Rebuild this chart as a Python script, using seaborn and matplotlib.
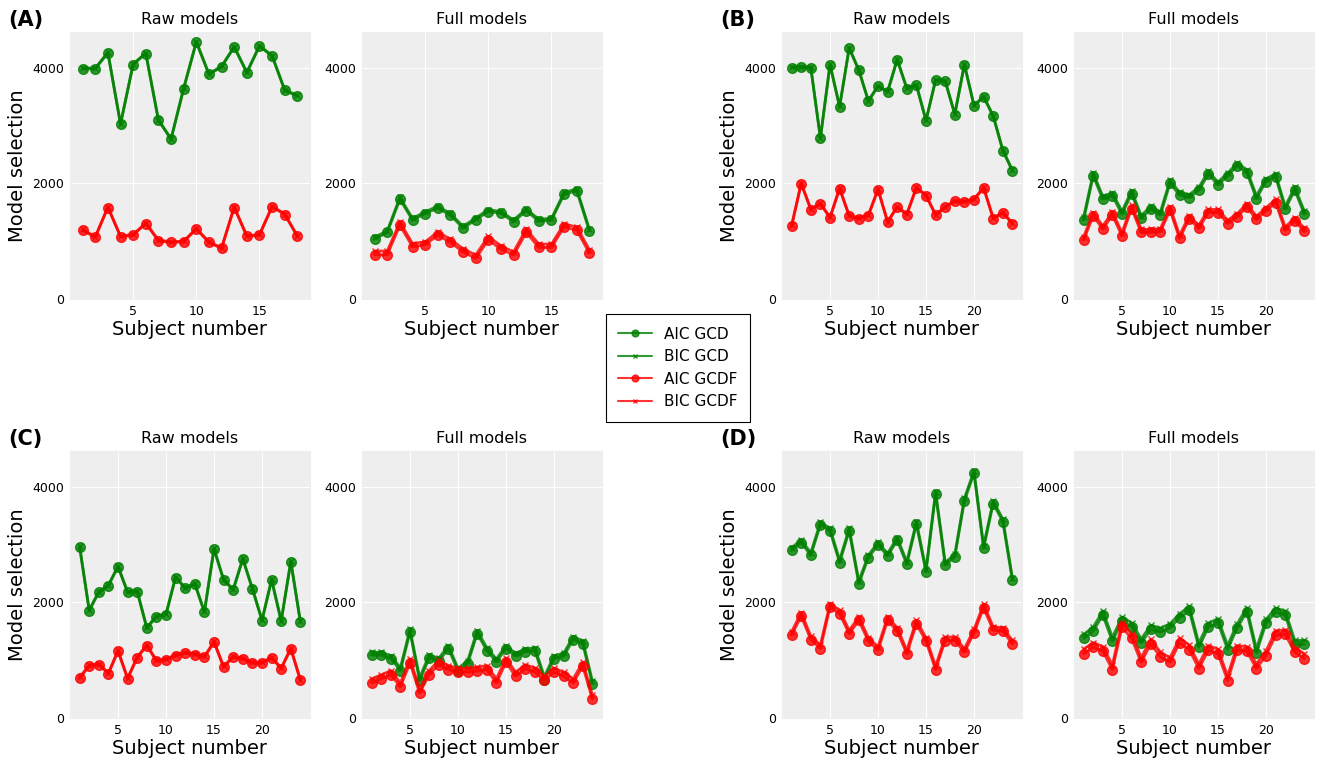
import numpy as np
import pandas as pd
import matplotlib
matplotlib.use("Agg")
import matplotlib.pyplot as plt
import seaborn as sns

# ---- data ----
subjects_a = list(range(1, 19))
subjects_bcd = list(range(1, 25))

# (A)
a_raw_aic_gcd = [3988, 3982, 4259, 3021, 4057, 4247, 3090, 2762, 3637, 4443, 3885, 4017, 4357, 3913, 4374, 4201, 3608, 3510]
a_raw_bic_gcd = [4000, 3995, 4270, 3035, 4068, 4258, 3102, 2775, 3650, 4455, 3897, 4030, 4368, 3925, 4386, 4213, 3620, 3522]
a_raw_aic_gcdf = [1191, 1065, 1583, 1076, 1105, 1306, 1007, 978, 990, 1209, 978, 875, 1583, 1082, 1105, 1594, 1462, 1082]
a_raw_bic_gcdf = [1203, 1078, 1595, 1088, 1117, 1318, 1019, 990, 1002, 1221, 990, 887, 1596, 1094, 1117, 1606, 1474, 1094]
a_full_aic_gcd = [1036, 1151, 1727, 1364, 1479, 1571, 1450, 1226, 1370, 1514, 1485, 1335, 1525, 1347, 1364, 1813, 1870, 1180]
a_full_bic_gcd = [1070, 1180, 1760, 1395, 1510, 1605, 1480, 1258, 1402, 1545, 1515, 1368, 1558, 1380, 1395, 1845, 1905, 1210]
a_full_aic_gcdf = [765, 765, 1278, 904, 938, 1105, 978, 817, 702, 1024, 863, 760, 1151, 892, 892, 1249, 1191, 794]
a_full_bic_gcdf = [830, 830, 1330, 960, 990, 1160, 1035, 870, 760, 1085, 920, 815, 1210, 950, 950, 1300, 1245, 855]

# (B)
b_raw_aic_gcd = [4000, 4011, 4000, 2779, 4051, 3323, 4338, 3954, 3421, 3679, 3581, 4137, 3639, 3696, 3083, 3782, 3765, 3192, 4051, 3341, 3495, 3163, 2567, 2218]
b_raw_bic_gcd = [4012, 4023, 4012, 2791, 4063, 3335, 4350, 3966, 3433, 3691, 3593, 4149, 3651, 3708, 3095, 3794, 3777, 3204, 4063, 3353, 3507, 3175, 2579, 2230]
b_raw_aic_gcdf = [1261, 1994, 1547, 1645, 1404, 1908, 1433, 1392, 1444, 1891, 1329, 1587, 1461, 1920, 1788, 1450, 1587, 1690, 1679, 1719, 1920, 1392, 1490, 1301]
b_raw_bic_gcdf = [1273, 2006, 1559, 1657, 1416, 1920, 1445, 1404, 1456, 1903, 1341, 1599, 1473, 1932, 1800, 1462, 1599, 1702, 1691, 1731, 1932, 1404, 1502, 1313]
b_full_aic_gcd = [1364, 2129, 1727, 1784, 1468, 1824, 1393, 1554, 1456, 2003, 1796, 1755, 1882, 2158, 1974, 2129, 2302, 2187, 1738, 2032, 2112, 1554, 1882, 1468]
b_full_bic_gcd = [1414, 2179, 1777, 1834, 1518, 1874, 1443, 1604, 1506, 2053, 1846, 1805, 1932, 2208, 2024, 2179, 2352, 2237, 1788, 2082, 2162, 1604, 1932, 1518]
b_full_aic_gcdf = [1019, 1439, 1209, 1450, 1093, 1565, 1151, 1151, 1163, 1537, 1047, 1387, 1220, 1496, 1496, 1306, 1421, 1593, 1376, 1525, 1669, 1191, 1352, 1168]
b_full_bic_gcdf = [1074, 1494, 1264, 1505, 1148, 1620, 1206, 1206, 1218, 1592, 1102, 1442, 1275, 1551, 1551, 1361, 1476, 1648, 1431, 1580, 1724, 1246, 1407, 1223]

# (C)
c_raw_aic_gcd = [2960, 1856, 2172, 2287, 2615, 2172, 2184, 1552, 1753, 1787, 2431, 2241, 2316, 1828, 2919, 2385, 2213, 2747, 2230, 1684, 2385, 1672, 2701, 1655]
c_raw_bic_gcd = [2975, 1871, 2187, 2302, 2630, 2187, 2199, 1567, 1768, 1802, 2446, 2256, 2331, 1843, 2934, 2400, 2228, 2762, 2245, 1699, 2400, 1687, 2716, 1670]
c_raw_aic_gcdf = [690, 897, 925, 764, 1155, 678, 1040, 1253, 983, 1006, 1080, 1121, 1098, 1052, 1310, 879, 1052, 1023, 948, 948, 1040, 851, 1195, 649]
c_raw_bic_gcdf = [705, 912, 940, 779, 1170, 693, 1055, 1268, 998, 1021, 1095, 1136, 1113, 1067, 1325, 894, 1067, 1038, 963, 963, 1055, 866, 1210, 664]
c_full_aic_gcd = [1086, 1086, 1029, 821, 1485, 647, 1040, 983, 1202, 810, 937, 1462, 1167, 971, 1202, 1069, 1144, 1167, 665, 1029, 1069, 1358, 1283, 589]
c_full_bic_gcd = [1136, 1136, 1079, 871, 1535, 697, 1090, 1033, 1252, 860, 987, 1512, 1217, 1021, 1252, 1119, 1194, 1217, 715, 1079, 1119, 1408, 1333, 639]
c_full_aic_gcdf = [607, 676, 751, 538, 953, 433, 751, 925, 838, 792, 792, 810, 838, 607, 965, 723, 850, 798, 653, 792, 723, 607, 896, 330]
c_full_bic_gcdf = [677, 746, 821, 608, 1023, 503, 821, 995, 908, 862, 862, 880, 908, 677, 1035, 793, 920, 868, 723, 862, 793, 677, 966, 400]

# (D)
d_raw_aic_gcd = [2902, 3035, 2815, 3341, 3237, 2688, 3237, 2324, 2774, 2994, 2803, 3075, 2659, 3352, 2526, 3873, 2647, 2786, 3757, 4231, 2936, 3711, 3399, 2381]
d_raw_bic_gcd = [2947, 3080, 2860, 3386, 3282, 2733, 3282, 2369, 2819, 3039, 2848, 3120, 2704, 3397, 2571, 3918, 2692, 2831, 3802, 4276, 2981, 3756, 3444, 2426]
d_raw_aic_gcdf = [1433, 1763, 1358, 1202, 1919, 1803, 1457, 1688, 1329, 1173, 1688, 1503, 1110, 1630, 1329, 838, 1341, 1341, 1139, 1474, 1907, 1520, 1503, 1283]
d_raw_bic_gcdf = [1493, 1823, 1418, 1262, 1979, 1863, 1517, 1748, 1389, 1233, 1748, 1563, 1170, 1690, 1389, 898, 1401, 1401, 1199, 1534, 1967, 1580, 1563, 1343]
d_full_aic_gcd = [1376, 1503, 1780, 1329, 1676, 1578, 1300, 1532, 1485, 1561, 1734, 1861, 1225, 1572, 1647, 1185, 1561, 1838, 1127, 1636, 1832, 1780, 1272, 1272]
d_full_bic_gcd = [1446, 1573, 1850, 1399, 1746, 1648, 1370, 1602, 1555, 1631, 1804, 1931, 1295, 1642, 1717, 1255, 1631, 1908, 1197, 1706, 1902, 1850, 1342, 1342]
d_full_aic_gcdf = [1110, 1225, 1156, 838, 1572, 1376, 965, 1283, 1058, 965, 1300, 1185, 855, 1173, 1110, 647, 1173, 1156, 855, 1081, 1428, 1445, 1139, 1029]
d_full_bic_gcdf = [1190, 1305, 1236, 918, 1652, 1456, 1045, 1363, 1138, 1045, 1380, 1265, 935, 1253, 1190, 727, 1253, 1236, 935, 1161, 1508, 1525, 1219, 1109]

series_names = ["AIC GCD", "BIC GCD", "AIC GCDF", "BIC GCDF"]
series_colors = ["green", "green", "red", "red"]
series_markers = ["o", "x", "o", "x"]
marker_sizes = [7, 5, 7, 5]

panels = {
    "A": (subjects_a,
          [a_raw_aic_gcd, a_raw_bic_gcd, a_raw_aic_gcdf, a_raw_bic_gcdf],
          [a_full_aic_gcd, a_full_bic_gcd, a_full_aic_gcdf, a_full_bic_gcdf]),
    "B": (subjects_bcd,
          [b_raw_aic_gcd, b_raw_bic_gcd, b_raw_aic_gcdf, b_raw_bic_gcdf],
          [b_full_aic_gcd, b_full_bic_gcd, b_full_aic_gcdf, b_full_bic_gcdf]),
    "C": (subjects_bcd,
          [c_raw_aic_gcd, c_raw_bic_gcd, c_raw_aic_gcdf, c_raw_bic_gcdf],
          [c_full_aic_gcd, c_full_bic_gcd, c_full_aic_gcdf, c_full_bic_gcdf]),
    "D": (subjects_bcd,
          [d_raw_aic_gcd, d_raw_bic_gcd, d_raw_aic_gcdf, d_raw_bic_gcdf],
          [d_full_aic_gcd, d_full_bic_gcd, d_full_aic_gcdf, d_full_bic_gcdf]),
}

sns.set_style("darkgrid", {"axes.facecolor": "#eeeeee", "grid.color": "white",
                           "axes.edgecolor": "#eeeeee", "text.color": "black",
                           "axes.labelcolor": "black", "xtick.color": "black",
                           "ytick.color": "black"})
plt.rcParams["font.family"] = ["DejaVu Sans"]

W, H = 1319, 758
fig = plt.figure(figsize=(W / 100, H / 100), dpi=100)

# pixel layout: (left of raw axes, top of axes) for each panel
origins = {"A": (70, 32), "B": (782, 32), "C": (70, 451), "D": (782, 451)}
ax_w, ax_h, gap = 240, 267, 52


def px_axes(left, top):
    return fig.add_axes([left / W, 1 - (top + ax_h) / H, ax_w / W, ax_h / H])


handles = None
for key, (subj, raw_vals, full_vals) in panels.items():
    left, top = origins[key]
    fig.text((left - 62) / W, 1 - (top - 12) / H, f"({key})", fontsize=15,
             fontweight="bold", va="center", ha="left")
    for j, (title, vals) in enumerate([("Raw models", raw_vals), ("Full models", full_vals)]):
        ax = px_axes(left + j * (ax_w + gap), top)
        for name, col, mk, ms, v in zip(series_names, series_colors, series_markers,
                                        marker_sizes, vals):
            df = pd.DataFrame({"subject": subj, "value": v})
            sns.lineplot(data=df, x="subject", y="value", ax=ax, color=col, alpha=0.8,
                         marker=mk, markersize=ms, linewidth=2, label=name,
                         markeredgecolor=col, markeredgewidth=1.0)
        ax.set_xlim(0, len(subj) + 1)
        ax.set_ylim(0, 4620)
        ax.set_yticks([0, 2000, 4000])
        ax.set_xticks([t for t in [5, 10, 15, 20] if t <= len(subj)])
        ax.tick_params(length=0, labelsize=9, colors="black", pad=4)
        ax.set_title(title, fontsize=11.5, pad=6)
        ax.set_xlabel("Subject number", fontsize=14, labelpad=2)
        if j == 0:
            ax.set_ylabel("Model selection", fontsize=14, labelpad=4)
        else:
            ax.set_ylabel("")
        if handles is None:
            handles, labels = ax.get_legend_handles_labels()
        ax.get_legend().remove()

leg = fig.legend(handles, labels, loc="center", bbox_to_anchor=(678 / W, 1 - 368 / H),
                 fontsize=11, frameon=True, fancybox=False, edgecolor="black",
                 facecolor="white", framealpha=1, borderpad=0.8, labelspacing=0.5,
                 handlelength=2.2, markerscale=0.7)
leg.get_frame().set_linewidth(0.8)
for line in leg.get_lines():
    line.set_linewidth(1.5)

fig.savefig("out.png", dpi=100, facecolor="white")
